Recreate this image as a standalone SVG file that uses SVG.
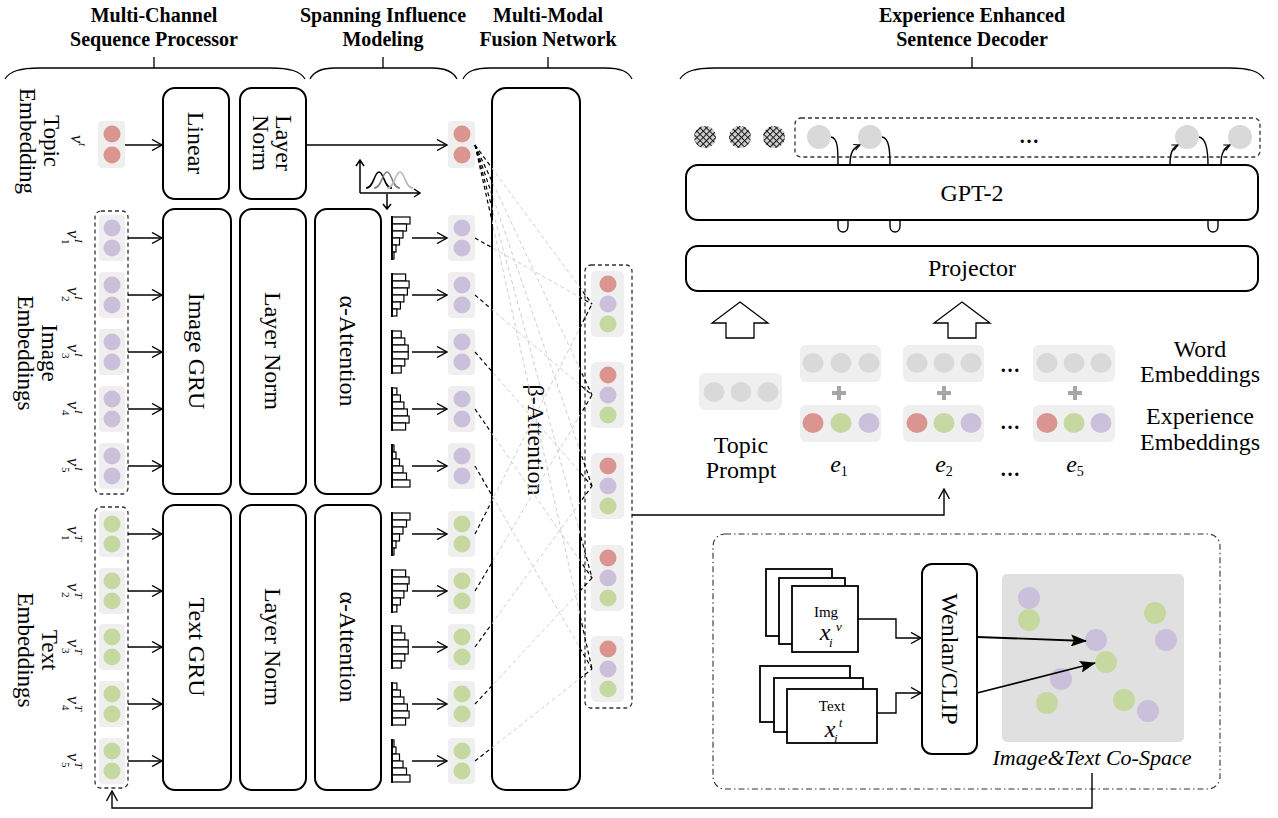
<svg xmlns="http://www.w3.org/2000/svg" width="1278" height="818" viewBox="0 0 1278 818">
<style>
text{font-family:"Liberation Serif","Times New Roman",serif;fill:#000}
.hd{font-family:"Liberation Serif",serif;font-size:20px;font-weight:bold;text-anchor:middle}
.lb{font-family:"Liberation Serif",serif;font-size:24px;text-anchor:middle;dominant-baseline:central}
.sl{font-family:"Liberation Serif",serif;font-size:23px;text-anchor:middle;dominant-baseline:central}
.it{font-style:italic}
.bx{fill:#fff;stroke:#000;stroke-width:2}
.pn{fill:#efefef}
.r{fill:#da9590}.p{fill:#cbc0dc}.g{fill:#c5d89f}.k{fill:#d9d9d9}
.ln{fill:none;stroke:#000;stroke-width:1.4}
.ar{fill:none;stroke:#000;stroke-width:1.4;marker-end:url(#oa)}
.dsh{fill:none;stroke:#333;stroke-width:1.3;stroke-dasharray:4 3}
.hb rect{fill:#fff;stroke:#000;stroke-width:1.2}
.hb line{stroke:#000;stroke-width:2}
.br{fill:none;stroke:#000;stroke-width:1.3}
.doc{fill:#fff;stroke:#000;stroke-width:1.8}
.pl{stroke:#a6a6a6;stroke-width:4}
</style>
<defs>
<marker id="oa" markerWidth="12" markerHeight="12" refX="11" refY="6" orient="auto" markerUnits="userSpaceOnUse"><path d="M1,0.5 L11,6 L1,11.5" fill="none" stroke="#000" stroke-width="1.4"/></marker>
<marker id="sa" markerWidth="8" markerHeight="8" refX="7" refY="4" orient="auto" markerUnits="userSpaceOnUse"><path d="M1,1 L7,4 L1,7" fill="none" stroke="#000" stroke-width="1"/></marker>
<marker id="fa" markerWidth="16" markerHeight="12" refX="15" refY="6" orient="auto" markerUnits="userSpaceOnUse"><path d="M0,0 L16,6 L0,12 L3,6 z" fill="#000"/></marker>
<pattern id="hatch" width="4.5" height="4.5" patternUnits="userSpaceOnUse" patternTransform="rotate(45)"><rect width="4.5" height="4.5" fill="#cfcfcf"/><path d="M0,0.5 H4.5 M0.5,0 V4.5" stroke="#111" stroke-width="1"/></pattern>
<clipPath id="inB"><rect x="492" y="0" width="88" height="818"/></clipPath>
<clipPath id="outB"><rect x="0" y="0" width="492" height="818"/><rect x="580" y="0" width="698" height="818"/></clipPath>
<g id="h0" class="hb"><rect x="0" y="-21" width="18" height="7"/><rect x="0" y="-14" width="14.5" height="7"/><rect x="0" y="-7" width="11" height="7"/><rect x="0" y="0" width="7.5" height="7"/><rect x="0" y="7" width="4" height="7"/><rect x="0" y="14" width="2" height="7"/><line x1="0" y1="-22" x2="0" y2="22"/></g>
<g id="h1" class="hb"><rect x="0" y="-21" width="13.6" height="7"/><rect x="0" y="-14" width="17.1" height="7"/><rect x="0" y="-7" width="15.4" height="7"/><rect x="0" y="0" width="11.9" height="7"/><rect x="0" y="7" width="8.4" height="7"/><rect x="0" y="14" width="4.9" height="7"/><line x1="0" y1="-22" x2="0" y2="22"/></g>
<g id="h2" class="hb"><rect x="0" y="-21" width="9.2" height="7"/><rect x="0" y="-14" width="12.8" height="7"/><rect x="0" y="-7" width="16.2" height="7"/><rect x="0" y="0" width="16.2" height="7"/><rect x="0" y="7" width="12.8" height="7"/><rect x="0" y="14" width="9.2" height="7"/><line x1="0" y1="-22" x2="0" y2="22"/></g>
<g id="h3" class="hb"><rect x="0" y="-21" width="4.9" height="7"/><rect x="0" y="-14" width="8.4" height="7"/><rect x="0" y="-7" width="11.9" height="7"/><rect x="0" y="0" width="15.4" height="7"/><rect x="0" y="7" width="17.1" height="7"/><rect x="0" y="14" width="13.6" height="7"/><line x1="0" y1="-22" x2="0" y2="22"/></g>
<g id="h4" class="hb"><rect x="0" y="-21" width="2" height="7"/><rect x="0" y="-14" width="4" height="7"/><rect x="0" y="-7" width="7.5" height="7"/><rect x="0" y="0" width="11" height="7"/><rect x="0" y="7" width="14.5" height="7"/><rect x="0" y="14" width="18" height="7"/><line x1="0" y1="-22" x2="0" y2="22"/></g>
<g id="fan">
<line x1="475" y1="145" x2="592" y2="304"/><line x1="475" y1="145" x2="592" y2="395"/><line x1="475" y1="145" x2="592" y2="486"/><line x1="475" y1="145" x2="592" y2="578"/><line x1="475" y1="145" x2="592" y2="669"/>
<line x1="475" y1="238" x2="592" y2="304"/><line x1="475" y1="295" x2="592" y2="395"/><line x1="475" y1="352" x2="592" y2="486"/><line x1="475" y1="409" x2="592" y2="578"/><line x1="475" y1="466" x2="592" y2="669"/>
<line x1="475" y1="534" x2="592" y2="304"/><line x1="475" y1="591" x2="592" y2="395"/><line x1="475" y1="647" x2="592" y2="486"/><line x1="475" y1="704" x2="592" y2="578"/><line x1="475" y1="761" x2="592" y2="669"/>
</g>
</defs>
<rect width="1278" height="818" fill="#fff"/>

<!-- headers and braces -->
<g id="headers">
<text class="hd" x="154" y="22">Multi-Channel</text><text class="hd" x="154" y="46">Sequence Processor</text>
<text class="hd" x="383" y="22">Spanning Influence</text><text class="hd" x="383" y="46">Modeling</text>
<text class="hd" x="548" y="22">Multi-Modal</text><text class="hd" x="548" y="46">Fusion Network</text>
<text class="hd" x="972" y="22">Experience Enhanced</text><text class="hd" x="972" y="46">Sentence Decoder</text>
<path class="br" d="M5,79 C10,71 20,68 40,68 H270 C290,68 300,71 305,79 M154,57 V68"/>
<path class="br" d="M310,79 C314,71 322,68 335,68 H432 C445,68 453,71 457,79 M383,57 V68"/>
<path class="br" d="M463,79 C467,71 475,68 490,68 H605 C620,68 628,71 632,79 M548,57 V68"/>
<path class="br" d="M680,79 C685,71 695,68 715,68 H1229 C1249,68 1259,71 1264,79 M972,57 V68"/>
</g>

<!-- left: topic embedding -->
<g id="topic-embedding">
<text class="sl" transform="translate(40,141) rotate(90)"><tspan x="0" y="-12">Topic</tspan><tspan x="0" y="12">Embedding</tspan></text>
<g transform="translate(75,141) rotate(90)"><text x="-6" y="4" class="it" font-size="18">v</text><text x="2" y="-4" class="it" font-size="11">t</text></g>
<rect class="pn" x="98" y="121" width="27" height="47" rx="4"/>
<circle class="r" cx="112" cy="134" r="8.5"/><circle class="r" cx="112" cy="155" r="8.5"/>
</g>

<g id="image-embeddings">
<text class="sl" transform="translate(38,353) rotate(90)"><tspan x="0" y="-12">Image</tspan><tspan x="0" y="12">Embeddings</tspan></text>
<rect class="dsh" x="95" y="211" width="33" height="283" rx="6"/>
<g transform="translate(71,238) rotate(90)"><text x="-8" y="4" class="it" font-size="18">v</text><text x="1" y="-4" class="it" font-size="11">I</text><text x="1" y="9" font-size="11">1</text></g>
<g transform="translate(71,295) rotate(90)"><text x="-8" y="4" class="it" font-size="18">v</text><text x="1" y="-4" class="it" font-size="11">I</text><text x="1" y="9" font-size="11">2</text></g>
<g transform="translate(71,352) rotate(90)"><text x="-8" y="4" class="it" font-size="18">v</text><text x="1" y="-4" class="it" font-size="11">I</text><text x="1" y="9" font-size="11">3</text></g>
<g transform="translate(71,409) rotate(90)"><text x="-8" y="4" class="it" font-size="18">v</text><text x="1" y="-4" class="it" font-size="11">I</text><text x="1" y="9" font-size="11">4</text></g>
<g transform="translate(71,466) rotate(90)"><text x="-8" y="4" class="it" font-size="18">v</text><text x="1" y="-4" class="it" font-size="11">I</text><text x="1" y="9" font-size="11">5</text></g>
<rect class="pn" x="99" y="215" width="26" height="46" rx="4"/><circle class="p" cx="112" cy="228" r="8.5"/><circle class="p" cx="112" cy="248" r="8.5"/>
<rect class="pn" x="99" y="272" width="26" height="46" rx="4"/><circle class="p" cx="112" cy="285" r="8.5"/><circle class="p" cx="112" cy="305" r="8.5"/>
<rect class="pn" x="99" y="329" width="26" height="46" rx="4"/><circle class="p" cx="112" cy="342" r="8.5"/><circle class="p" cx="112" cy="362" r="8.5"/>
<rect class="pn" x="99" y="386" width="26" height="46" rx="4"/><circle class="p" cx="112" cy="399" r="8.5"/><circle class="p" cx="112" cy="419" r="8.5"/>
<rect class="pn" x="99" y="443" width="26" height="46" rx="4"/><circle class="p" cx="112" cy="456" r="8.5"/><circle class="p" cx="112" cy="476" r="8.5"/>
</g>

<g id="text-embeddings">
<text class="sl" transform="translate(38,650) rotate(90)"><tspan x="0" y="-12">Text</tspan><tspan x="0" y="12">Embeddings</tspan></text>
<rect class="dsh" x="95" y="507" width="33" height="281" rx="6"/>
<g transform="translate(71,534) rotate(90)"><text x="-8" y="4" class="it" font-size="18">v</text><text x="1" y="-4" class="it" font-size="11">T</text><text x="1" y="9" font-size="11">1</text></g>
<g transform="translate(71,591) rotate(90)"><text x="-8" y="4" class="it" font-size="18">v</text><text x="1" y="-4" class="it" font-size="11">T</text><text x="1" y="9" font-size="11">2</text></g>
<g transform="translate(71,647) rotate(90)"><text x="-8" y="4" class="it" font-size="18">v</text><text x="1" y="-4" class="it" font-size="11">T</text><text x="1" y="9" font-size="11">3</text></g>
<g transform="translate(71,704) rotate(90)"><text x="-8" y="4" class="it" font-size="18">v</text><text x="1" y="-4" class="it" font-size="11">T</text><text x="1" y="9" font-size="11">4</text></g>
<g transform="translate(71,761) rotate(90)"><text x="-8" y="4" class="it" font-size="18">v</text><text x="1" y="-4" class="it" font-size="11">T</text><text x="1" y="9" font-size="11">5</text></g>
<rect class="pn" x="99" y="511" width="26" height="46" rx="4"/><circle class="g" cx="112" cy="524" r="8.5"/><circle class="g" cx="112" cy="544" r="8.5"/>
<rect class="pn" x="99" y="568" width="26" height="46" rx="4"/><circle class="g" cx="112" cy="581" r="8.5"/><circle class="g" cx="112" cy="601" r="8.5"/>
<rect class="pn" x="99" y="624" width="26" height="46" rx="4"/><circle class="g" cx="112" cy="637" r="8.5"/><circle class="g" cx="112" cy="657" r="8.5"/>
<rect class="pn" x="99" y="681" width="26" height="46" rx="4"/><circle class="g" cx="112" cy="694" r="8.5"/><circle class="g" cx="112" cy="714" r="8.5"/>
<rect class="pn" x="99" y="738" width="26" height="46" rx="4"/><circle class="g" cx="112" cy="751" r="8.5"/><circle class="g" cx="112" cy="771" r="8.5"/>
</g>

<!-- processing boxes -->
<g id="linear"><rect class="bx" x="163" y="88" width="66" height="111" rx="12"/><text class="lb" transform="translate(196,143) rotate(90)">Linear</text></g>
<g id="layer-norm-topic"><rect class="bx" x="240" y="88" width="66" height="111" rx="12"/><text class="lb" transform="translate(273,143) rotate(90)"><tspan x="0" y="-11">Layer</tspan><tspan x="0" y="12">Norm</tspan></text></g>
<g id="image-gru"><rect class="bx" x="163" y="209" width="68" height="285" rx="12"/><text class="lb" transform="translate(197,351) rotate(90)">Image GRU</text></g>
<g id="layer-norm-image"><rect class="bx" x="240" y="209" width="66" height="285" rx="12"/><text class="lb" transform="translate(273,351) rotate(90)">Layer Norm</text></g>
<g id="alpha-attention-image"><rect class="bx" x="315" y="209" width="66" height="285" rx="12"/><text class="lb" transform="translate(348,351) rotate(90)">α-Attention</text></g>
<g id="text-gru"><rect class="bx" x="163" y="505" width="68" height="285" rx="12"/><text class="lb" transform="translate(197,647) rotate(90)">Text GRU</text></g>
<g id="layer-norm-text"><rect class="bx" x="240" y="505" width="66" height="285" rx="12"/><text class="lb" transform="translate(273,647) rotate(90)">Layer Norm</text></g>
<g id="alpha-attention-text"><rect class="bx" x="315" y="505" width="66" height="285" rx="12"/><text class="lb" transform="translate(348,647) rotate(90)">α-Attention</text></g>

<!-- distribution icon -->
<g id="distribution-icon" fill="none" stroke-width="1.5">
<path d="M366,188 C374,188 374,172 379,172 C384,172 384,188 392,188" stroke="#000"/>
<path d="M374,188 C382,188 382,172 387,172 C392,172 392,188 400,188" stroke="#808080"/>
<path d="M387,188 C395,188 395,172 400,172 C405,172 405,188 413,188" stroke="#b8b8b8"/>
<path d="M360,193 V161 M356,166 L360,160 L364,166" stroke="#000"/>
<path d="M360,193 H420 M414,189 L420,193 L414,197" stroke="#000"/>
<path d="M387,194 V209 M383,204 L387,209 L391,204" stroke="#000"/>
</g>

<!-- histograms -->
<g id="histograms">
<use href="#h0" x="392" y="238"/><use href="#h1" x="392" y="295"/><use href="#h2" x="392" y="352"/><use href="#h3" x="392" y="409"/><use href="#h4" x="392" y="466"/>
<use href="#h0" x="392" y="534"/><use href="#h1" x="392" y="591"/><use href="#h2" x="392" y="647"/><use href="#h3" x="392" y="704"/><use href="#h4" x="392" y="761"/>
</g>

<!-- attention outputs -->
<g id="topic-out"><rect class="pn" x="448" y="121" width="27" height="47" rx="4"/><circle class="r" cx="462" cy="134" r="8.5"/><circle class="r" cx="462" cy="155" r="8.5"/></g>
<g id="image-out">
<rect class="pn" x="448" y="215" width="27" height="46" rx="4"/><circle class="p" cx="462" cy="228" r="8.5"/><circle class="p" cx="462" cy="248" r="8.5"/>
<rect class="pn" x="448" y="272" width="27" height="46" rx="4"/><circle class="p" cx="462" cy="285" r="8.5"/><circle class="p" cx="462" cy="305" r="8.5"/>
<rect class="pn" x="448" y="329" width="27" height="46" rx="4"/><circle class="p" cx="462" cy="342" r="8.5"/><circle class="p" cx="462" cy="362" r="8.5"/>
<rect class="pn" x="448" y="386" width="27" height="46" rx="4"/><circle class="p" cx="462" cy="399" r="8.5"/><circle class="p" cx="462" cy="419" r="8.5"/>
<rect class="pn" x="448" y="443" width="27" height="46" rx="4"/><circle class="p" cx="462" cy="456" r="8.5"/><circle class="p" cx="462" cy="476" r="8.5"/>
</g>
<g id="text-out">
<rect class="pn" x="448" y="511" width="27" height="46" rx="4"/><circle class="g" cx="462" cy="524" r="8.5"/><circle class="g" cx="462" cy="544" r="8.5"/>
<rect class="pn" x="448" y="568" width="27" height="46" rx="4"/><circle class="g" cx="462" cy="581" r="8.5"/><circle class="g" cx="462" cy="601" r="8.5"/>
<rect class="pn" x="448" y="624" width="27" height="46" rx="4"/><circle class="g" cx="462" cy="637" r="8.5"/><circle class="g" cx="462" cy="657" r="8.5"/>
<rect class="pn" x="448" y="681" width="27" height="46" rx="4"/><circle class="g" cx="462" cy="694" r="8.5"/><circle class="g" cx="462" cy="714" r="8.5"/>
<rect class="pn" x="448" y="738" width="27" height="46" rx="4"/><circle class="g" cx="462" cy="751" r="8.5"/><circle class="g" cx="462" cy="771" r="8.5"/>
</g>

<g id="beta-attention"><rect x="492" y="88" width="88" height="702" rx="14" fill="none" stroke="#000" stroke-width="2"/><text class="lb" transform="translate(536,440) rotate(90)">β-Attention</text></g>

<g id="fused-experience">
<rect class="dsh" x="585" y="265" width="47" height="443" rx="6"/>
<rect class="pn" x="591" y="271" width="33" height="66" rx="5"/><circle class="r" cx="608" cy="284" r="8.5"/><circle class="p" cx="608" cy="304" r="8.5"/><circle class="g" cx="608" cy="324" r="8.5"/>
<rect class="pn" x="591" y="362" width="33" height="66" rx="5"/><circle class="r" cx="608" cy="375" r="8.5"/><circle class="p" cx="608" cy="395" r="8.5"/><circle class="g" cx="608" cy="415" r="8.5"/>
<rect class="pn" x="591" y="453" width="33" height="66" rx="5"/><circle class="r" cx="608" cy="466" r="8.5"/><circle class="p" cx="608" cy="486" r="8.5"/><circle class="g" cx="608" cy="506" r="8.5"/>
<rect class="pn" x="591" y="545" width="33" height="66" rx="5"/><circle class="r" cx="608" cy="558" r="8.5"/><circle class="p" cx="608" cy="578" r="8.5"/><circle class="g" cx="608" cy="598" r="8.5"/>
<rect class="pn" x="591" y="636" width="33" height="66" rx="5"/><circle class="r" cx="608" cy="649" r="8.5"/><circle class="p" cx="608" cy="669" r="8.5"/><circle class="g" cx="608" cy="689" r="8.5"/>
</g>

<!-- decoder -->
<g id="token-row">
<circle cx="705" cy="137" r="11" fill="url(#hatch)"/><circle cx="740" cy="137" r="11" fill="url(#hatch)"/><circle cx="774" cy="137" r="11" fill="url(#hatch)"/>
<rect class="dsh" x="795" y="118" width="465" height="39" rx="6"/>
<circle class="k" cx="819" cy="137" r="12"/><circle class="k" cx="870" cy="137" r="12"/><circle class="k" cx="1187" cy="137" r="12"/><circle class="k" cx="1240" cy="137" r="12"/>
<text x="1029" y="143" font-size="20" font-weight="bold" text-anchor="middle">…</text>
</g>
<g id="gpt2"><rect class="bx" x="686" y="165" width="572" height="55" rx="12"/><text class="lb" x="972" y="193">GPT-2</text></g>
<g id="projector"><rect class="bx" x="686" y="246" width="572" height="45" rx="12"/><text class="lb" x="972" y="268">Projector</text></g>
<g id="up-arrows" fill="#fff" stroke="#000" stroke-width="1.3">
<polygon points="740,302 768,323 754,323 754,338 726,338 726,323 712,323"/>
<polygon points="962,302 990,323 976,323 976,338 948,338 948,323 934,323"/>
</g>
<g id="topic-prompt">
<rect class="pn" x="699" y="373" width="83" height="37" rx="6"/>
<ellipse class="k" cx="714" cy="392" rx="10.5" ry="10"/><ellipse class="k" cx="741" cy="392" rx="10.5" ry="10"/><ellipse class="k" cx="768" cy="392" rx="10.5" ry="10"/>
<text class="lb" x="741" y="445">Topic</text><text class="lb" x="741" y="470">Prompt</text>
</g>
<g id="e1">
<rect class="pn" x="800" y="345" width="81" height="37" rx="6"/>
<ellipse class="k" cx="813" cy="363" rx="10.5" ry="10"/><ellipse class="k" cx="841" cy="363" rx="10.5" ry="10"/><ellipse class="k" cx="869" cy="363" rx="10.5" ry="10"/>
<path class="pl" d="M832,393 H846 M839,386 V400"/>
<rect class="pn" x="800" y="405" width="81" height="37" rx="6"/>
<ellipse class="r" cx="813" cy="423" rx="10.5" ry="10"/><ellipse class="g" cx="841" cy="423" rx="10.5" ry="10"/><ellipse class="p" cx="869" cy="423" rx="10.5" ry="10"/>
<text x="839" y="472" class="it" font-size="24" text-anchor="middle">e<tspan font-size="14" font-style="normal" dy="4">1</tspan></text>
</g>
<g id="e2">
<rect class="pn" x="903" y="345" width="81" height="37" rx="6"/>
<ellipse class="k" cx="917" cy="363" rx="10.5" ry="10"/><ellipse class="k" cx="944" cy="363" rx="10.5" ry="10"/><ellipse class="k" cx="971" cy="363" rx="10.5" ry="10"/>
<path class="pl" d="M937,393 H951 M944,386 V400"/>
<rect class="pn" x="903" y="405" width="81" height="37" rx="6"/>
<ellipse class="r" cx="917" cy="423" rx="10.5" ry="10"/><ellipse class="g" cx="944" cy="423" rx="10.5" ry="10"/><ellipse class="p" cx="971" cy="423" rx="10.5" ry="10"/>
<text x="944" y="472" class="it" font-size="24" text-anchor="middle">e<tspan font-size="14" font-style="normal" dy="4">2</tspan></text>
</g>
<g id="ellipses-mid" font-size="20" font-weight="bold" text-anchor="middle">
<text x="1010" y="372">…</text><text x="1010" y="429">…</text><text x="1010" y="476">…</text>
</g>
<g id="e5">
<rect class="pn" x="1033" y="345" width="82" height="37" rx="6"/>
<ellipse class="k" cx="1047" cy="363" rx="10.5" ry="10"/><ellipse class="k" cx="1074" cy="363" rx="10.5" ry="10"/><ellipse class="k" cx="1101" cy="363" rx="10.5" ry="10"/>
<path class="pl" d="M1068,393 H1082 M1075,386 V400"/>
<rect class="pn" x="1033" y="405" width="82" height="37" rx="6"/>
<ellipse class="r" cx="1047" cy="423" rx="10.5" ry="10"/><ellipse class="g" cx="1074" cy="423" rx="10.5" ry="10"/><ellipse class="p" cx="1101" cy="423" rx="10.5" ry="10"/>
<text x="1075" y="472" class="it" font-size="24" text-anchor="middle">e<tspan font-size="14" font-style="normal" dy="4">5</tspan></text>
</g>
<g id="embedding-labels">
<text class="lb" x="1200" y="349">Word</text><text class="lb" x="1200" y="374">Embeddings</text>
<text class="lb" x="1200" y="416">Experience</text><text class="lb" x="1200" y="442">Embeddings</text>
</g>

<!-- CLIP panel -->
<g id="clip-panel">
<rect x="713" y="534" width="507" height="255" rx="12" fill="none" stroke="#333" stroke-width="1.1" stroke-dasharray="6 3 1.5 3"/>
</g>
<g id="img-docs">
<rect class="doc" x="766" y="569" width="66" height="67"/><rect class="doc" x="779" y="578" width="66" height="66"/><rect class="doc" x="792" y="586" width="66" height="66"/>
<text x="826" y="617" font-size="15" text-anchor="middle">Img</text>
<text x="825" y="640" class="it" font-size="24" text-anchor="middle">x</text><text x="836" y="631" class="it" font-size="13">v</text><text x="829" y="647" class="it" font-size="13">i</text>
</g>
<g id="text-docs">
<rect class="doc" x="760" y="666" width="90" height="56"/><rect class="doc" x="774" y="678" width="89" height="54"/><rect class="doc" x="787" y="689" width="90" height="54"/>
<text x="832" y="711" font-size="15" text-anchor="middle">Text</text>
<text x="830" y="737" class="it" font-size="24" text-anchor="middle">x</text><text x="839" y="727" class="it" font-size="12">t</text><text x="834" y="743" class="it" font-size="13">i</text>
</g>
<g id="wenlan-clip"><rect class="bx" x="922" y="564" width="55" height="190" rx="10"/><text class="lb" transform="translate(950,659) rotate(90)">Wenlan/CLIP</text></g>
<g id="co-space">
<rect x="1002" y="574" width="182" height="168" rx="5" fill="#e0e0e0"/>
<circle class="p" cx="1029" cy="598" r="11"/><circle class="g" cx="1029" cy="620" r="11"/>
<circle class="g" cx="1155" cy="613" r="11"/><circle class="p" cx="1166" cy="640" r="11"/>
<circle class="p" cx="1061" cy="679" r="11"/><circle class="g" cx="1047" cy="703" r="11"/>
<circle class="g" cx="1124" cy="700" r="11"/><circle class="p" cx="1148" cy="711" r="11"/>
<circle class="p" cx="1096" cy="640" r="11"/><circle class="g" cx="1106" cy="662" r="11"/>
<text x="1092" y="765" class="it" font-size="22" text-anchor="middle">Image&amp;Text Co-Space</text>
</g>

<!-- connectors -->
<g id="connectors">
<use href="#fan" fill="none" stroke="#cfcfcf" stroke-width="1" stroke-dasharray="4 3" clip-path="url(#inB)"/>
<use href="#fan" fill="none" stroke="#000" stroke-width="1.2" stroke-dasharray="4 3" clip-path="url(#outB)"/>
<line class="ar" x1="125" y1="145" x2="162" y2="145"/>
<line class="ar" x1="306" y1="145" x2="447" y2="145"/>
<line class="ar" x1="128" y1="238" x2="162" y2="238"/><line class="ar" x1="128" y1="295" x2="162" y2="295"/><line class="ar" x1="128" y1="352" x2="162" y2="352"/><line class="ar" x1="128" y1="409" x2="162" y2="409"/><line class="ar" x1="128" y1="466" x2="162" y2="466"/>
<line class="ar" x1="128" y1="534" x2="162" y2="534"/><line class="ar" x1="128" y1="591" x2="162" y2="591"/><line class="ar" x1="128" y1="647" x2="162" y2="647"/><line class="ar" x1="128" y1="704" x2="162" y2="704"/><line class="ar" x1="128" y1="761" x2="162" y2="761"/>
<line class="ar" x1="412" y1="238" x2="447" y2="238"/><line class="ar" x1="412" y1="295" x2="447" y2="295"/><line class="ar" x1="412" y1="352" x2="447" y2="352"/><line class="ar" x1="412" y1="409" x2="447" y2="409"/><line class="ar" x1="412" y1="466" x2="447" y2="466"/>
<line class="ar" x1="412" y1="534" x2="447" y2="534"/><line class="ar" x1="412" y1="591" x2="447" y2="591"/><line class="ar" x1="412" y1="647" x2="447" y2="647"/><line class="ar" x1="412" y1="704" x2="447" y2="704"/><line class="ar" x1="412" y1="761" x2="447" y2="761"/>
<path class="ar" d="M632,515 H944 V489" stroke-width="1.8"/>
<path class="ar" d="M1092,773 V808 H112 V791"/>
<path class="ar" d="M858,619 H896 V638 H921"/>
<path class="ar" d="M877,713 H896 V693 H921"/>
<path fill="none" stroke="#000" stroke-width="1.8" marker-end="url(#fa)" d="M977,637 L1086,641"/>
<path fill="none" stroke="#000" stroke-width="1.8" marker-end="url(#fa)" d="M977,693 L1095,663"/>
<path class="ln" d="M831,137 C838,138 838,150 838,165"/>
<path class="ln" d="M838,220 V226 C838,234 848,234 848,226 V220"/>
<path class="ln" marker-end="url(#sa)" d="M850,165 C850,153 853,148 860,145"/>
<path class="ln" d="M882,137 C889,138 890,150 890,165"/>
<path class="ln" d="M890,220 V226 C890,234 900,234 900,226 V220"/>
<path class="ln" marker-end="url(#sa)" d="M1170,165 C1170,153 1172,148 1178,145"/>
<path class="ln" d="M1199,137 C1206,138 1208,150 1208,165"/>
<path class="ln" d="M1208,220 V226 C1208,234 1218,234 1218,226 V220"/>
<path class="ln" marker-end="url(#sa)" d="M1221,165 C1221,153 1224,148 1230,145"/>
</g>
</svg>
